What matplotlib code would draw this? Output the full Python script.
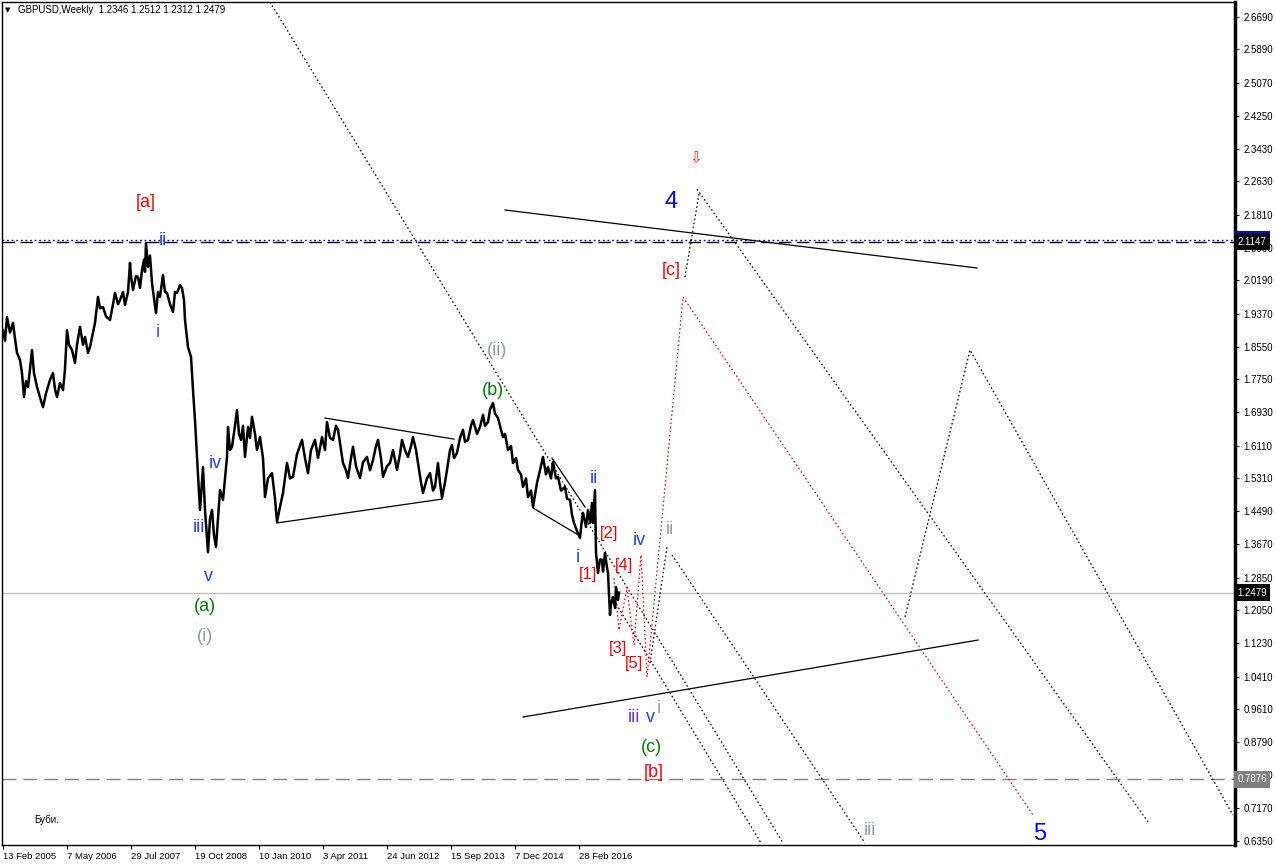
import matplotlib
matplotlib.use('Agg')
import matplotlib.pyplot as plt
from matplotlib.transforms import blended_transform_factory

plt.rcParams['font.family'] = ['Liberation Sans', 'DejaVu Sans']

# weekly GBPUSD, x = weeks since 13 Feb 2005
price_weeks = [0, 2, 4, 7, 10, 12, 14, 17, 19, 21, 23, 25, 27, 29, 31, 34, 37, 40, 43, 47, 50, 52, 54, 57, 60, 62, 64, 66, 69, 72, 74, 77, 80, 82, 85, 87,
               90, 92, 95, 97, 100, 103, 107, 110, 112, 115, 117, 120, 122, 125, 127, 128, 130, 133, 135, 137, 139, 141, 142, 143, 145, 147, 149, 151, 153, 155, 157, 160, 162, 164, 167, 170, 172, 174,
               177, 179, 181, 182, 185, 188, 190, 192, 194, 197, 200, 202, 205, 207, 209, 211, 213, 217, 220, 224, 225, 227, 229, 232, 234,
               236, 238, 240, 242, 245, 247, 249, 252, 254, 257, 260, 262, 265, 269, 272, 274, 277, 280, 284, 287, 290, 294, 299, 302, 305, 308, 312, 315, 319, 322, 324, 327, 330, 333, 335, 338, 340,
               343, 345, 348, 350, 353, 357, 360, 364, 367, 370, 373, 375, 378, 380, 384, 387, 390, 394, 397, 399, 402, 405, 408, 410, 413, 415, 418, 420, 424, 427, 430, 432, 435, 437, 439, 442, 444, 447, 449,
               451, 454, 457, 460, 462, 465, 468, 470, 474, 477, 480, 482, 485, 487, 490, 492, 495, 498, 500, 502, 505, 508, 510, 513, 515, 518, 520, 523, 525, 528, 530, 532, 534, 537, 540, 543, 545, 548, 550,
               553, 555, 558, 562, 564, 567, 569, 571, 574, 577, 579, 580, 583, 585, 587, 589, 590, 592, 593, 595, 597, 599, 600, 602, 604, 605, 607, 608, 610, 612, 613, 615, 616]
price_close = [1.896, 1.870, 1.928, 1.890, 1.914, 1.875, 1.840, 1.822, 1.790, 1.731, 1.770, 1.756, 1.800, 1.847, 1.790, 1.756, 1.730, 1.706, 1.740, 1.773, 1.790, 1.750, 1.731, 1.765, 1.748, 1.800, 1.896, 1.860, 1.847, 1.815, 1.860, 1.904, 1.860, 1.879, 1.840, 1.854,
               1.890, 1.914, 1.978, 1.950, 1.953, 1.930, 1.921, 1.960, 1.988, 1.960, 1.970, 1.990, 1.958, 1.990, 2.062, 2.030, 1.995, 2.030, 2.027, 2.000, 2.044, 2.070, 2.040, 2.111, 2.052, 2.080, 2.012, 1.975, 1.938, 1.990, 1.978, 2.032, 1.990, 1.988, 1.960, 1.941, 1.990, 1.988,
               2.007, 2.000, 1.970, 1.921, 1.854, 1.830, 1.748, 1.674, 1.583, 1.452, 1.558, 1.452, 1.348, 1.430, 1.452, 1.390, 1.361, 1.501, 1.477, 1.583, 1.657, 1.600, 1.608, 1.660, 1.699,
               1.640, 1.625, 1.660, 1.583, 1.657, 1.630, 1.682, 1.640, 1.600, 1.632, 1.580, 1.484, 1.530, 1.543, 1.480, 1.4225, 1.460, 1.494, 1.568, 1.530, 1.534, 1.590, 1.625, 1.580, 1.543, 1.600, 1.625, 1.580, 1.632, 1.600, 1.669, 1.630, 1.625, 1.660, 1.650, 1.600, 1.568,
               1.550, 1.531, 1.580, 1.608, 1.560, 1.531, 1.570, 1.583, 1.550, 1.5755, 1.610, 1.625, 1.580, 1.534, 1.560, 1.568, 1.600, 1.551, 1.590, 1.625, 1.600, 1.583, 1.610, 1.632, 1.600, 1.568, 1.520, 1.494, 1.530, 1.543, 1.500, 1.509, 1.568, 1.520, 1.482, 1.520, 1.551, 1.600, 1.6125,
               1.580, 1.593, 1.630, 1.650, 1.620, 1.625, 1.660, 1.674, 1.640, 1.657, 1.687, 1.660, 1.669, 1.700, 1.716, 1.690, 1.679, 1.650, 1.632, 1.640, 1.600, 1.610, 1.568, 1.580, 1.551, 1.540, 1.509, 1.530, 1.484, 1.500, 1.4595, 1.490, 1.519, 1.550, 1.583, 1.540, 1.558, 1.530, 1.5706,
               1.530, 1.534, 1.500, 1.509, 1.480, 1.477, 1.440, 1.420, 1.400, 1.383, 1.430, 1.445, 1.410, 1.452, 1.420, 1.4694, 1.420, 1.501, 1.346, 1.2966, 1.330, 1.329, 1.300, 1.346, 1.310, 1.297, 1.193, 1.220, 1.237, 1.210, 1.262, 1.230, 1.248]

# horizontal levels
level_top = 2.1147
level_top_blue = 2.1190
level_bid = 1.2479
level_low = 0.7876

# y axis tick values (as shown by the terminal)
ytick_vals = [2.6690, 2.5890, 2.5070, 2.4250, 2.3430, 2.2630, 2.1810, 2.0990, 2.0190, 1.9370,
              1.8550, 1.7750, 1.6930, 1.6110, 1.5310, 1.4490, 1.3670, 1.2850, 1.2050, 1.1230,
              1.0410, 0.9610, 0.8790, 0.7970, 0.7170, 0.6350]
xtick_weeks = [0, 64, 128, 192, 256, 320, 384, 448, 512, 576]
xtick_labels = ['13 Feb 2005', '7 May 2006', '29 Jul 2007', '19 Oct 2008', '10 Jan 2010',
                '3 Apr 2011', '24 Jun 2012', '15 Sep 2013', '7 Dec 2014', '28 Feb 2016']

# solid trend lines (week, price) pairs
trend_solid = [
    ([502, 974], [2.1926, 2.0494]),
    ([520, 975], [0.941, 1.131]),
    ([274, 439], [1.420, 1.479]),
    ([322, 451], [1.679, 1.627]),
    ([530, 577], [1.457, 1.388]),
    ([549, 582], [1.580, 1.4595]),
]
# black dotted projections
trend_dotted = [
    ([267, 780], [2.706, 0.630]),
    ([609, 758], [1.237, 0.630]),
    ([647, 664], [1.074, 1.361]),
    ([669, 862], [1.341, 0.630]),
    ([682, 696], [2.027, 2.232]),
    ([694, 1145], [2.244, 0.682]),
    ([902, 967, 1230], [1.188, 1.847, 0.699]),
]
# red dotted projection
red_weeks = [611, 616, 624, 631, 638, 644, 680, 1030]
red_prices = [1.284, 1.156, 1.260, 1.119, 1.341, 1.040, 1.978, 0.699]

# wave labels: text, week, price, colour, size
wave_labels = [
    ('[a]', 143, 2.212, '#ff0000', 13), ('ii', 160, 2.1185, '#1e3cff', 13), ('i', 155, 1.889, '#6a2be2', 13),
    ('iv', 212, 1.566, '#1e3cff', 13), ('iii', 196, 1.408, '#1e3cff', 13), ('v', 205, 1.289, '#1e3cff', 13),
    ('(a)', 202, 1.213, '#008000', 13), ('(i)', 202, 1.139, '#909cac', 13),
    ('(ii)', 494, 1.845, '#909cac', 13), ('(b)', 490, 1.746, '#008000', 13),
    ('ii', 591, 1.531, '#1e3cff', 13), ('i', 575, 1.336, '#1e3cff', 13),
    ('[1]', 585, 1.292, '#ff0000', 12), ('[2]', 606, 1.393, '#ff0000', 12), ('[3]', 615, 1.109, '#ff0000', 12),
    ('[4]', 621, 1.316, '#ff0000', 12), ('[5]', 631, 1.074, '#ff0000', 12),
    ('iv', 636, 1.376, '#1e3cff', 13), ('ii', 667, 1.403, '#a09a90', 13),
    ('iii', 631, 0.939, '#6a2be2', 13), ('v', 647, 0.939, '#1e3cff', 13), ('i', 656, 0.963, '#909cac', 13),
    ('(c)', 648, 0.865, '#008000', 13), ('[b]', 651, 0.805, '#ff0000', 13),
    ('[c]', 668, 2.044, '#ff0000', 13), ('4', 668, 2.212, '#0000ff', 17),
    ('\u21e9', 693, 2.321, '#ff2000', 11), ('iii', 867, 0.660, '#909cac', 13), ('5', 1037, 0.652, '#0000ff', 17),
]

W, H = 1276, 866
fig = plt.figure(figsize=(W / 100, H / 100), dpi=100)
ax = fig.add_axes([2 / W, 21 / H, 1233 / W, 843 / H])
ax.set_xlim(-1, 1232)
ax.set_ylim(0.6251, 2.706)

dot = (0, (1.3, 2.0))
ax.axhline(level_top_blue, color='#0000cc', lw=1, ls=dot, zorder=1)
ax.axhline(level_top, color='black', lw=1, ls=(0, (9, 4)), zorder=1)
ax.axhline(level_bid, color='#c0c0c0', lw=1, zorder=1)
ax.axhline(level_low, color='#808080', lw=1, ls=(0, (10, 5)), zorder=1)

for xs, ys in trend_solid:
    ax.plot(xs, ys, color='black', lw=0.9, zorder=2)
for xs, ys in trend_dotted:
    ax.plot(xs, ys, color='black', lw=0.9, ls=dot, zorder=2)
ax.plot(red_weeks, red_prices, color='red', lw=0.9, ls=dot, zorder=2)

ax.plot(price_weeks, price_close, color='black', lw=1.8, zorder=3)

for txt, wx, py, col, fs in wave_labels:
    ax.text(wx, py, txt, color=col, fontsize=fs, ha='center', va='center', zorder=4)

ax.text(16 / 1233, 1 - 8 / 843, 'GBPUSD,Weekly  1.2346 1.2512 1.2312 1.2479', transform=ax.transAxes,
        fontsize=7, ha='left', va='center')
ax.text(6 / 1233, 1 - 8 / 843, '\u25bc', transform=ax.transAxes, fontsize=5, ha='center', va='center',
        family='DejaVu Sans')
ax.text(32 / 1233, 25 / 843, 'Буби.', transform=ax.transAxes, fontsize=7, ha='left', va='center')

# axes styling like the terminal
ax.yaxis.tick_right()
ax.set_yticks(ytick_vals)
ax.set_yticklabels(['%.4f' % v for v in ytick_vals])
ax.set_xticks(xtick_weeks)
ax.set_xticklabels(xtick_labels, ha='left')
ax.tick_params(axis='y', direction='out', length=3, width=0.8, labelsize=7, pad=3)
ax.tick_params(axis='x', direction='out', length=3, width=0.8, labelsize=6.8, pad=2)
for s in ax.spines.values():
    s.set_linewidth(1)
ax.spines['right'].set_linewidth(2.5)

tr = blended_transform_factory(ax.transAxes, ax.transData)
ax.text(1.002, level_top_blue + 0.002, '2.1190', transform=tr, color='white', fontsize=7, ha='left', va='center',
        bbox=dict(boxstyle='square,pad=0.35', fc='#0000ff', ec='none'), clip_on=False, zorder=5)
for lvl, fc in [(level_top, 'black'), (level_bid, 'black'), (level_low, '#808080')]:
    ax.text(1.002, lvl, '%.4f' % lvl, transform=tr, color='white', fontsize=7, ha='left', va='center',
            bbox=dict(boxstyle='square,pad=0.35', fc=fc, ec='none'), clip_on=False, zorder=6)

fig.savefig('out.png', dpi=100)
